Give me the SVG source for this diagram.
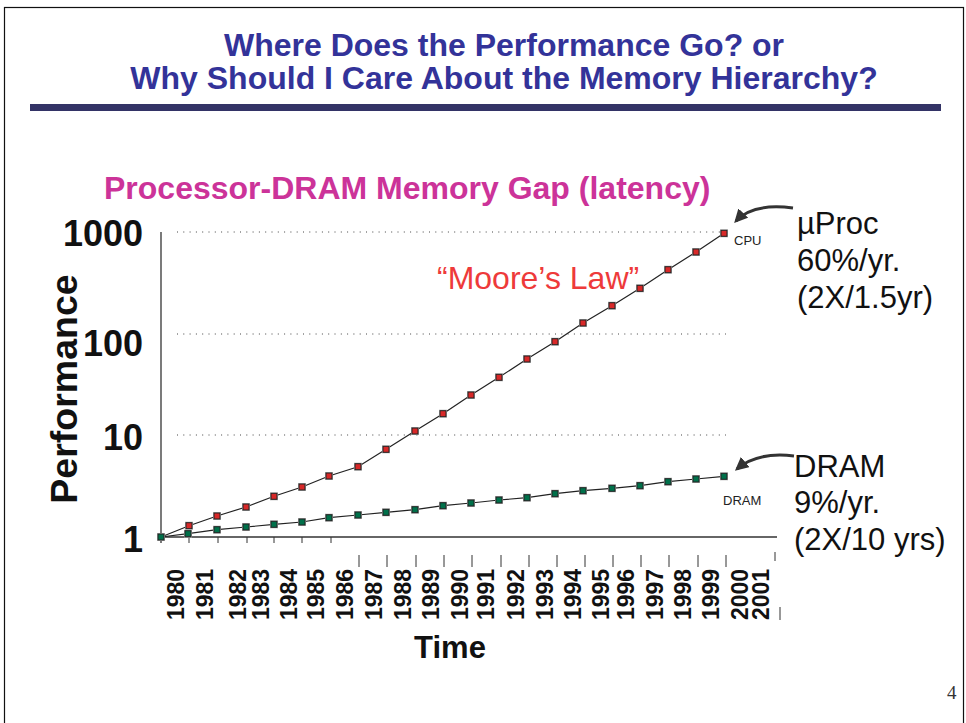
<svg xmlns="http://www.w3.org/2000/svg" width="966" height="723" viewBox="0 0 966 723">
<style>
.title{font-family:"Liberation Sans",Arial,sans-serif;font-weight:bold;font-size:32px;fill:#333399;text-anchor:middle}
.sub{font-family:"Liberation Sans",Arial,sans-serif;font-weight:bold;font-size:32px;fill:#cc3399}
.ylab{font-family:"Liberation Sans",Arial,sans-serif;font-weight:bold;font-size:36px;fill:#111;text-anchor:end}
.yr{font-family:"Liberation Sans",Arial,sans-serif;font-weight:bold;font-size:23px;fill:#111}
.axt{font-family:"Liberation Sans",Arial,sans-serif;font-weight:bold;fill:#111}
.big{font-family:"Liberation Sans",Arial,sans-serif;font-size:31px;fill:#111}
.small{font-family:"Liberation Sans",Arial,sans-serif;font-size:13px;fill:#222}
.grid{stroke:#444;stroke-width:1;stroke-dasharray:1 5.3;fill:none}
.axis{stroke:#333;stroke-width:1.3;fill:none}
.tick{stroke:#333;stroke-width:1;fill:none}
.series{stroke:#222;stroke-width:1.2;fill:none}
.arrow{stroke:#333;stroke-width:3;fill:none}
</style>
<defs>
<g id="mr"><rect x="-4" y="-4" width="8" height="8" fill="#b4b4b4"/><rect x="-3" y="-3" width="6" height="6" fill="#d82828" stroke="#222" stroke-width="1"/></g>
<g id="mg"><rect x="-4" y="-4" width="8" height="8" fill="#b4b4b4"/><rect x="-3" y="-3" width="6" height="6" fill="#00704a" stroke="#222" stroke-width="1"/></g>
<marker id="ah" viewBox="0 0 10 10" refX="8" refY="5" markerWidth="4.5" markerHeight="4.5" orient="auto" markerUnits="strokeWidth"><path d="M0,0 L10,5 L0,10 z" fill="#333"/></marker>
</defs>
<rect width="966" height="723" fill="#fff"/>
<g id="frame"><rect x="4.5" y="7.5" width="959" height="730" fill="none" stroke="#111" stroke-width="1.2"/></g>
<g id="header">
<text class="title" x="504" y="56">Where Does the Performance Go? or</text>
<text class="title" x="504" y="89">Why Should I Care About the Memory Hierarchy?</text>
<rect x="30" y="104" width="911" height="7" fill="#333366"/>
</g>
<text id="chart-title" class="sub" x="104" y="199">Processor-DRAM Memory Gap (latency)</text>
<g id="grid">
<line class="grid" x1="177" y1="232" x2="726" y2="232"/>
<line class="grid" x1="177" y1="334" x2="726" y2="334"/>
<line class="grid" x1="177" y1="435" x2="726" y2="435"/>
</g>
<g id="axes">
<line class="axis" x1="161" y1="232" x2="161" y2="543"/>
<line class="axis" x1="161" y1="537" x2="777" y2="537"/>
<g class="tick">
<line x1="189" y1="537" x2="189" y2="543"/><line x1="218" y1="537" x2="218" y2="543"/><line x1="247" y1="537" x2="247" y2="543"/><line x1="274" y1="537" x2="274" y2="543"/><line x1="302" y1="537" x2="302" y2="543"/><line x1="331" y1="537" x2="331" y2="543"/>
<line x1="359" y1="555" x2="359" y2="567"/><line x1="387" y1="555" x2="387" y2="567"/><line x1="416" y1="555" x2="416" y2="567"/><line x1="444" y1="555" x2="444" y2="567"/><line x1="472" y1="555" x2="472" y2="567"/><line x1="501" y1="555" x2="501" y2="567"/><line x1="529" y1="555" x2="529" y2="567"/><line x1="557" y1="555" x2="557" y2="567"/><line x1="585" y1="555" x2="585" y2="567"/><line x1="613" y1="555" x2="613" y2="567"/><line x1="641" y1="555" x2="641" y2="567"/><line x1="669" y1="555" x2="669" y2="567"/><line x1="698" y1="555" x2="698" y2="567"/><line x1="726" y1="555" x2="726" y2="567"/>
<line x1="775" y1="552" x2="775" y2="561"/><line x1="780" y1="607" x2="780" y2="620"/>
</g>
<text class="ylab" x="143" y="246">1000</text>
<text class="ylab" x="143" y="356">100</text>
<text class="ylab" x="143" y="450">10</text>
<text class="ylab" x="143" y="552">1</text>
<text class="axt" font-size="37.5" text-anchor="middle" transform="translate(77,389) rotate(-90)">Performance</text>
<text class="axt" font-size="31" text-anchor="middle" x="450" y="658">Time</text>
</g>
<g id="years" class="yr">
<text transform="translate(184,620) rotate(-90)">1980</text>
<text transform="translate(213,620) rotate(-90)">1981</text>
<text transform="translate(246,620) rotate(-90)">1982</text>
<text transform="translate(269,620) rotate(-90)">1983</text>
<text transform="translate(297,620) rotate(-90)">1984</text>
<text transform="translate(324,620) rotate(-90)">1985</text>
<text transform="translate(353,620) rotate(-90)">1986</text>
<text transform="translate(382,620) rotate(-90)">1987</text>
<text transform="translate(411,620) rotate(-90)">1988</text>
<text transform="translate(439,620) rotate(-90)">1989</text>
<text transform="translate(468,620) rotate(-90)">1990</text>
<text transform="translate(494,620) rotate(-90)">1991</text>
<text transform="translate(524,620) rotate(-90)">1992</text>
<text transform="translate(553,620) rotate(-90)">1993</text>
<text transform="translate(581,620) rotate(-90)">1994</text>
<text transform="translate(609,620) rotate(-90)">1995</text>
<text transform="translate(634,620) rotate(-90)">1996</text>
<text transform="translate(663,620) rotate(-90)">1997</text>
<text transform="translate(691,620) rotate(-90)">1998</text>
<text transform="translate(719,620) rotate(-90)">1999</text>
<text transform="translate(748,620) rotate(-90)">2000</text>
<text transform="translate(769,620) rotate(-90)">2001</text>
</g>
<g id="cpu-series">
<polyline class="series" points="161,537 189,525.7 217,516 246,507 274,496.3 302,487 329,476 358,466.7 386,449.3 415,431 443,413.7 471,395 499,377.3 527,359 555,341.7 583,323 612,305.7 640,288.3 668,269.7 696,252 724,233.3"/>
<use href="#mr" x="189" y="525.7"/><use href="#mr" x="217" y="516"/><use href="#mr" x="246" y="507"/><use href="#mr" x="274" y="496.3"/><use href="#mr" x="302" y="487"/><use href="#mr" x="329" y="476"/><use href="#mr" x="358" y="466.7"/><use href="#mr" x="386" y="449.3"/><use href="#mr" x="415" y="431"/><use href="#mr" x="443" y="413.7"/><use href="#mr" x="471" y="395"/><use href="#mr" x="499" y="377.3"/><use href="#mr" x="527" y="359"/><use href="#mr" x="555" y="341.7"/><use href="#mr" x="583" y="323"/><use href="#mr" x="612" y="305.7"/><use href="#mr" x="640" y="288.3"/><use href="#mr" x="668" y="269.7"/><use href="#mr" x="696" y="252"/><use href="#mr" x="724" y="233.3"/>
<text class="small" x="734" y="245">CPU</text>
</g>
<g id="dram-series">
<polyline class="series" points="161,537 188,533.7 217,529.7 246,527 274,524.3 302,522 329,517.7 358,515 386,512.3 415,509.7 443,505.7 471,503 499,500 527,497.7 555,493.7 583,490.7 612,488.3 640,485.7 668,481.7 696,479 724,476.3"/>
<use href="#mg" x="161" y="537"/><use href="#mg" x="188" y="533.7"/><use href="#mg" x="217" y="529.7"/><use href="#mg" x="246" y="527"/><use href="#mg" x="274" y="524.3"/><use href="#mg" x="302" y="522"/><use href="#mg" x="329" y="517.7"/><use href="#mg" x="358" y="515"/><use href="#mg" x="386" y="512.3"/><use href="#mg" x="415" y="509.7"/><use href="#mg" x="443" y="505.7"/><use href="#mg" x="471" y="503"/><use href="#mg" x="499" y="500"/><use href="#mg" x="527" y="497.7"/><use href="#mg" x="555" y="493.7"/><use href="#mg" x="583" y="490.7"/><use href="#mg" x="612" y="488.3"/><use href="#mg" x="640" y="485.7"/><use href="#mg" x="668" y="481.7"/><use href="#mg" x="696" y="479"/><use href="#mg" x="724" y="476.3"/>
<text class="small" x="723" y="505">DRAM</text>
</g>
<text id="moores-law" x="437" y="289" font-family="'Liberation Sans',Arial,sans-serif" font-size="32" fill="#ee3a3a">“Moore’s Law”</text>
<g id="uproc-note" class="big">
<text x="797" y="234">µProc</text>
<text x="797" y="271">60%/yr.</text>
<text x="797" y="308">(2X/1.5yr)</text>
</g>
<g id="dram-note" class="big">
<text x="794" y="477">DRAM</text>
<text x="794" y="513">9%/yr.</text>
<text x="794" y="550">(2X/10 yrs)</text>
</g>
<g id="connectors">
<path class="arrow" d="M793,208 C770,205 748,208 736,221" marker-end="url(#ah)"/>
<path class="arrow" d="M794,456 C770,453 750,458 737,469" marker-end="url(#ah)"/>
</g>
<text id="page" x="947" y="699" font-family="'Liberation Serif','Times New Roman',serif" font-size="19" fill="#333">4</text>
</svg>
